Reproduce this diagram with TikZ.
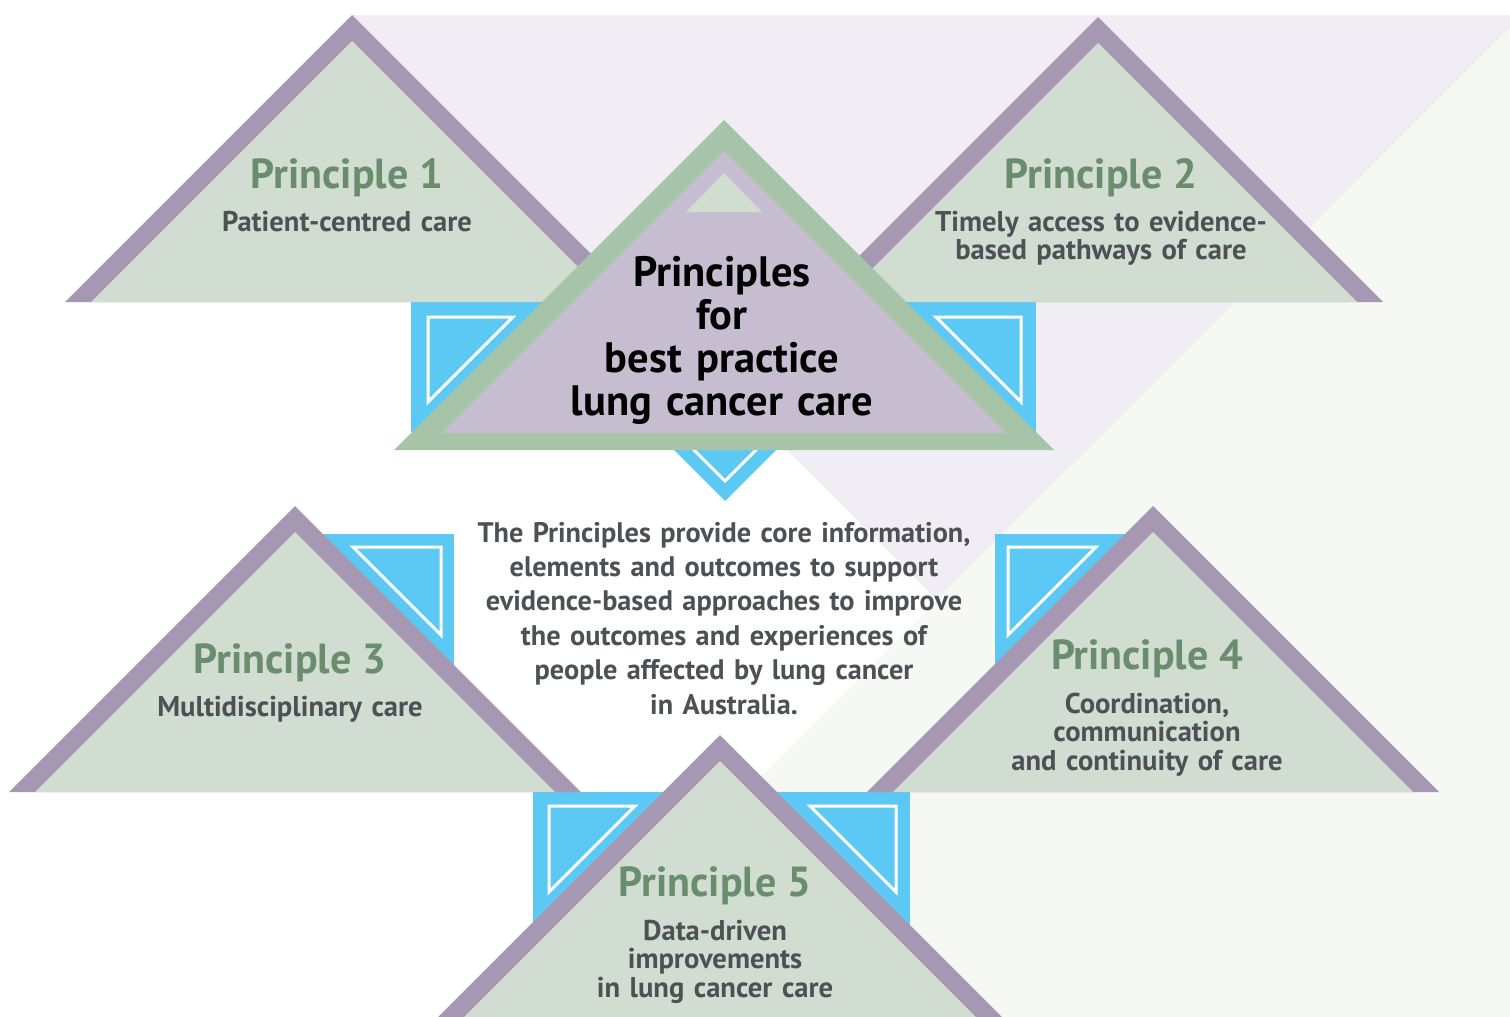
\documentclass[tikz,border=0pt]{standalone}
\usepackage{fontspec}
\setmainfont{PT Sans}
\definecolor{rimpurple}{HTML}{A698B3}
\definecolor{leafgreen}{HTML}{D0DDD0}
\definecolor{coregreen}{HTML}{A7C4A9}
\definecolor{corelilac}{HTML}{C6BDD0}
\definecolor{tileblue}{HTML}{5BC9F4}
\definecolor{bglilac}{HTML}{F0EEF4}
\definecolor{bgmint}{HTML}{F6F8F4}
\definecolor{headgreen}{HTML}{6A8D6E}
\definecolor{subgray}{HTML}{4D5055}

\begin{document}
\begin{tikzpicture}[x=1pt, y=-1pt,
	rim/.style={fill=rimpurple},
	leaf/.style={fill=leafgreen},
	tile/.style={fill=tileblue},
	notch/.style={draw=white, line width=3pt},
	head/.style={text=headgreen, font=\bfseries\fontsize{42}{44}\selectfont, anchor=base, inner sep=0pt},
	sub/.style={text=subgray, font=\bfseries\fontsize{28.6}{28.8}\selectfont, anchor=base, inner sep=0pt, align=center, text width=440pt}]
	\clip (0,0) rectangle (1510,1017);
	\fill[white] (0,0) rectangle (1510,1017);
	\fill[bglilac] (352,15) -- (1510,15) -- (1510,28) -- (937,600) -- cycle;
	\fill[bgmint] (1510,28) -- (1510,1017) -- (521,1017) -- cycle;

	% blue tiles behind the triangles
	\fill[tile] (411,302) rectangle (1036,432);
	\fill[tile] (625,401) -- (725,501) -- (825,401) -- cycle;
	\fill[tile] (320,534) rectangle (454,665);
	\fill[tile] (995,534) rectangle (1130,665);
	\fill[tile] (533,792) rectangle (910,930);
	\draw[notch] (428,317) -- (513,317) -- (428,402) -- cycle;
	\draw[notch] (936,317) -- (1021,317) -- (1021,402) -- cycle;
	\draw[notch] (665,421) -- (725,481) -- (785,421) -- cycle;
	\draw[notch] (353,547) -- (441,547) -- (441,635) -- cycle;
	\draw[notch] (1008,547) -- (1096,547) -- (1008,635) -- cycle;
	\draw[notch] (549,806) -- (635,806) -- (549,892) -- cycle;
	\draw[notch] (810,806) -- (896,806) -- (896,892) -- cycle;

	% principle triangles
	\foreach \i/\x/\y/\h in {1/352/15/287, 2/1098/17/285, 3/295/506/286, 4/1153/506/286, 5/720/735/300} {
		\coordinate (p\i) at (\x,\y);
		\fill[rim] (p\i) -- ++(-\h,\h) -- ++(2*\h,0) -- cycle;
		\fill[leaf] (\x,\y+26) -- ++(-\h+26,\h-26) -- ++(2*\h-52,0) -- cycle;
	}

	% centre triangle
	\coordinate (top) at (724,120);
	\fill[coregreen] (top) -- ++(-330,330) -- ++(660,0) -- cycle;
	\fill[corelilac] (724,151) -- ++(-282,282) -- ++(564,0) -- cycle;
	\fill[leaf] (724,173) -- ++(-38,39) -- ++(76,0) -- cycle;

	\node[head] (h1) at (347,188) {Principle 1};
	\node[sub] (s1) at (347,231) {Patient-centred care};
	\node[head] (h2) at (1101,188) {Principle 2};
	\node[sub] (s2) at (1101,231) {Timely access to evidence-\\based pathways of care};
	\node[head] (h3) at (290,673) {Principle 3};
	\node[sub] (s3) at (290,716) {Multidisciplinary care};
	\node[head] (h4) at (1147,669) {Principle 4};
	\node[sub] (s4) at (1147,713) {Coordination,\\communication\\and continuity of care};
	\node[head] (h5) at (715,896) {Principle 5};
	\node[sub] (s5) at (715,940) {Data-driven\\improvements\\in lung cancer care};

	\node[anchor=base, inner sep=0pt, align=center, text width=500pt,
		font=\bfseries\fontsize{42.5}{43}\selectfont] (title) at (722,286)
		{Principles\\for\\best practice\\lung cancer care};
	\node[anchor=base, inner sep=0pt, align=center, text width=600pt, text=subgray,
		font=\bfseries\fontsize{28.3}{34.4}\selectfont] (blurb) at (724,542)
		{The Principles provide core information,\\elements and outcomes to support\\evidence-based approaches to improve\\the outcomes and experiences of\\people affected by lung cancer\\in Australia.};
\end{tikzpicture}
\end{document}
